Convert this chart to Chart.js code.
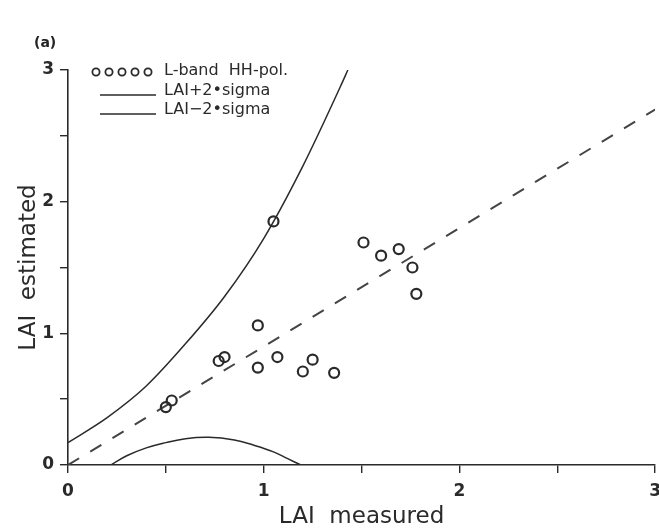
<!DOCTYPE html>
<html>
<head>
<meta charset="utf-8">
<script src="https://cdn.jsdelivr.net/npm/chart.js@4/dist/chart.umd.min.js"></script>
<style>
  html, body { margin: 0; padding: 0; background: #fff; overflow: hidden; }
  #wrap { position: relative; width: 659px; height: 531px; overflow: hidden; }
  #panel { position: absolute; left: 34px; top: 34px; font: bold 14px "DejaVu Sans", sans-serif; color: #222; }
</style>
</head>
<body>
<div id="wrap">
  <canvas id="laiChart" width="669" height="531"></canvas>
  <div id="panel">(a)</div>
</div>
<script>
// points: L-band HH-pol.
const measured  = [0.50, 0.53, 0.77, 0.80, 0.97, 0.97, 1.05, 1.07, 1.20, 1.25, 1.36, 1.51, 1.60, 1.69, 1.76, 1.78];
const estimated = [0.44, 0.49, 0.79, 0.82, 1.06, 0.74, 1.85, 0.82, 0.71, 0.80, 0.70, 1.69, 1.59, 1.64, 1.50, 1.30];

// LAI + 2 sigma
const upperX = [0, 0.2, 0.4, 0.6, 0.8, 1.0, 1.2, 1.4, 1.43];
const upperY = [0.17, 0.36, 0.60, 0.92, 1.28, 1.72, 2.27, 2.90, 3.0];

// LAI - 2 sigma
const lowerX = [0.22, 0.30, 0.40, 0.50, 0.60, 0.72, 0.85, 0.95, 1.05, 1.12, 1.19];
const lowerY = [0.00, 0.07, 0.13, 0.17, 0.20, 0.21, 0.19, 0.15, 0.10, 0.05, 0.00];

// dashed fit line
const fitX = [0, 3];
const fitY = [0, 2.7];

const legendLabels = ['L-band  HH-pol.', 'LAI+2\u2022sigma', 'LAI\u22122\u2022sigma'];
const tickLabels = ['0', '1', '2', '3'];

const ink = '#2a2a2a';
const pairs = (xs, ys) => xs.map((x, i) => ({ x: x, y: ys[i] }));

// legend drawn inside the plot, top left
const insideLegend = {
    id: 'insideLegend',
    afterDraw(chart) {
        const ctx = chart.ctx;
        const x0 = 92, rows = [71, 91, 110];
        ctx.save();
        ctx.strokeStyle = ink;
        ctx.fillStyle = ink;
        ctx.font = '16px "DejaVu Sans", sans-serif';
        ctx.textBaseline = 'middle';
        ctx.lineWidth = 1.8;
        for (let i = 0; i < 5; i++) {
            ctx.beginPath();
            ctx.arc(x0 + 4 + i * 13, rows[0] + 1, 3.6, 0, Math.PI * 2);
            ctx.stroke();
        }
        ctx.lineWidth = 1.5;
        [rows[1], rows[2]].forEach(y => {
            ctx.beginPath();
            ctx.moveTo(x0 + 8, y + 4);
            ctx.lineTo(x0 + 64, y + 4);
            ctx.stroke();
        });
        legendLabels.forEach((t, i) => ctx.fillText(t, x0 + 72, rows[i]));
        ctx.restore();
    }
};

const axisCommon = {
    type: 'linear',
    min: 0,
    max: 3,
    border: { color: ink, width: 1.6 },
    grid: { drawOnChartArea: false, drawTicks: true, tickLength: 8, color: ink, lineWidth: 1.4 },
    ticks: {
        stepSize: 0.5,
        color: ink,
        font: { family: '"DejaVu Sans", sans-serif', size: 17, weight: 'bold' },
        callback: v => Number.isInteger(v) ? tickLabels[v] : ''
    }
};

new Chart(document.getElementById('laiChart'), {
    type: 'scatter',
    data: {
        datasets: [
            {
                label: legendLabels[0],
                data: pairs(measured, estimated),
                pointRadius: 5,
                pointBorderWidth: 2.2,
                pointBorderColor: ink,
                pointBackgroundColor: 'rgba(0,0,0,0)',
                showLine: false
            },
            {
                label: legendLabels[1],
                data: pairs(upperX, upperY),
                showLine: true,
                pointRadius: 0,
                borderColor: ink,
                borderWidth: 1.5,
                cubicInterpolationMode: 'monotone'
            },
            {
                label: legendLabels[2],
                data: pairs(lowerX, lowerY),
                showLine: true,
                pointRadius: 0,
                borderColor: ink,
                borderWidth: 1.5,
                tension: 0.4
            },
            {
                label: 'fit',
                data: pairs(fitX, fitY),
                showLine: true,
                pointRadius: 0,
                borderColor: '#444',
                borderWidth: 2,
                borderDash: [13, 13]
            }
        ]
    },
    options: {
        responsive: false,
        animation: false,
        layout: { autoPadding: false, padding: { left: 10, top: 70, right: 0, bottom: 0 } },
        plugins: {
            legend: { display: false },
            tooltip: { enabled: false }
        },
        scales: {
            x: Object.assign({}, axisCommon, {
                ticks: Object.assign({}, axisCommon.ticks, { padding: 8, maxRotation: 0 }),
                title: {
                    display: true,
                    text: 'LAI  measured',
                    color: ink,
                    font: { family: '"DejaVu Sans", sans-serif', size: 23 },
                    padding: { top: 0, bottom: 0 }
                },
                afterFit: s => { s.height = 66; }
            }),
            y: Object.assign({}, axisCommon, {
                ticks: Object.assign({}, axisCommon.ticks, { padding: 6 }),
                title: {
                    display: true,
                    text: 'LAI  estimated',
                    color: ink,
                    font: { family: '"DejaVu Sans", sans-serif', size: 23 },
                    padding: { top: 5, bottom: 0 }
                },
                afterFit: s => { s.width = 58; }
            })
        }
    },
    plugins: [insideLegend]
});
</script>
</body>
</html>
